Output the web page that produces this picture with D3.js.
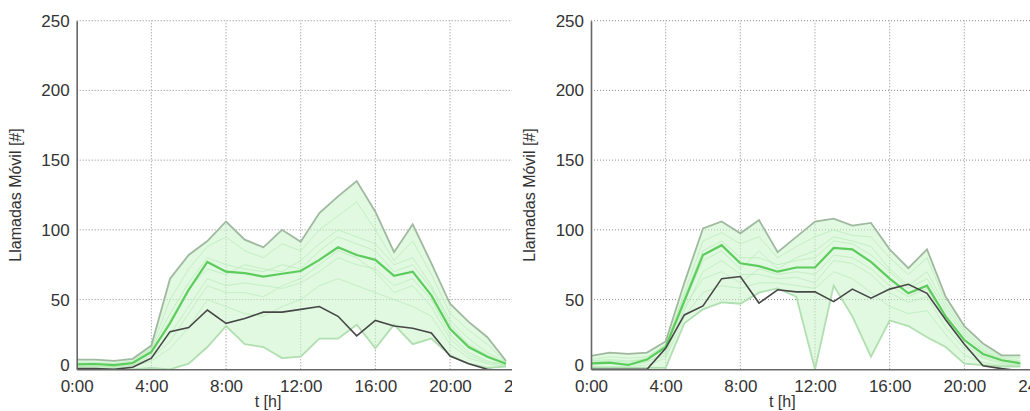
<!DOCTYPE html>
<html>
<head>
<meta charset="utf-8">
<script src="https://cdn.jsdelivr.net/npm/d3@7"></script>
<style>
  body { margin: 0; background: #fff; }
  svg { display: block; font-family: Arial, "Liberation Sans", sans-serif; }
</style>
</head>
<body>
<div id="chart"></div>
<script>
// hours 0..23, one value per hour
var hours = d3.range(0, 24);
var xTicks = [0, 4, 8, 12, 16, 20, 24];
var xTickLabels = ["0:00", "4:00", "8:00", "12:00", "16:00", "20:00", "24:00"];
var yTicks = [0, 50, 100, 150, 200, 250];
var yLabel = "Llamadas Móvil [#]";
var xLabel = "t [h]";

// left panel
var upperL = [7, 7, 6, 7.5, 17, 65, 82, 92, 106, 93, 87.5, 100, 91.5, 112, 124, 135, 113, 84, 104, 76, 47, 34, 23, 6];
var lowerL = [0, 0, 0, 0, 1, 0, 4, 16, 31, 18, 16, 8, 9, 22, 22, 32, 15, 32, 18, 22, 10, 4, 1, 2];
var meanL = [3.6, 3.8, 3, 4.5, 12.5, 33, 57, 77, 70, 69, 66.5, 68.5, 70.5, 78.5, 87.5, 82, 78.5, 67, 70, 53, 29, 16, 9, 4];
var dayL = [0.5, 0.5, 0, 1.5, 8, 27, 30, 42.5, 33, 36.5, 41, 41, 43, 45, 38, 24, 35, 31, 29.5, 26, 9.5, 4, 0, -1];
var faintL = [
  [5, 5, 4, 6, 15, 50, 72, 88, 95, 85, 80, 90, 85, 100, 110, 120, 100, 78, 92, 68, 40, 28, 18, 5],
  [2, 2, 1.5, 3, 10, 25, 45, 65, 60, 62, 60, 58, 62, 70, 80, 75, 72, 60, 65, 50, 25, 12, 6, 3],
  [4, 4, 3, 5, 14, 40, 62, 80, 75, 72, 70, 75, 72, 85, 95, 90, 85, 70, 75, 58, 32, 18, 10, 4],
  [1, 1, 1, 2, 6, 15, 30, 50, 45, 40, 38, 45, 50, 60, 65, 60, 55, 50, 45, 38, 18, 8, 4, 2],
  [3, 3, 2, 4, 12, 35, 58, 72, 68, 75, 72, 70, 78, 90, 100, 95, 90, 75, 80, 60, 35, 22, 12, 5],
  [2, 2, 2, 3, 8, 20, 40, 60, 55, 55, 52, 60, 65, 75, 85, 80, 70, 55, 60, 45, 22, 10, 5, 3]
];

// right panel
var upperR = [9.6, 12, 11, 12, 20, 62, 101, 106, 97.5, 107, 84, 95, 106, 108, 103, 105, 86, 72.5, 86, 52, 31, 18.5, 10, 10];
var lowerR = [1, 1, 1, 1, 1, 33, 43, 48, 47, 55, 58, 52, 0, 60, 38, 9, 35, 31, 23, 16, 4, 3, 2, 2];
var meanR = [4.3, 4.8, 3.1, 7, 16, 49, 82, 89, 76, 74, 70, 73, 73, 87, 86, 77, 65, 54.5, 60, 38, 21, 11, 6.5, 4.3];
var dayR = [0, 0, 0, 0, 15, 39, 45.5, 65, 66.5, 47.5, 57, 55.5, 55.5, 48.5, 57.5, 51, 57.5, 61, 54.5, 35.5, 18, 2.5, 0.5, -1];
var faintR = [
  [7, 9, 8, 9, 17, 55, 92, 98, 90, 95, 80, 88, 95, 100, 96, 95, 80, 68, 80, 48, 28, 16, 9, 8],
  [3, 4, 3, 5, 12, 42, 70, 78, 68, 68, 65, 66, 62, 78, 76, 68, 55, 48, 52, 30, 15, 8, 4, 3],
  [5, 6, 5, 8, 18, 52, 85, 92, 80, 80, 75, 78, 80, 92, 90, 82, 70, 58, 65, 42, 24, 13, 7, 5],
  [2, 2, 2, 3, 8, 38, 55, 60, 58, 62, 62, 60, 58, 70, 65, 55, 45, 40, 42, 25, 10, 5, 3, 2],
  [6, 7, 6, 7, 15, 48, 78, 85, 72, 85, 72, 80, 85, 95, 92, 88, 72, 60, 70, 45, 26, 14, 8, 6],
  [4, 5, 4, 6, 10, 45, 65, 70, 62, 72, 68, 70, 68, 82, 80, 72, 60, 52, 58, 35, 18, 9, 5, 3]
];

var W = 1030, H = 411;
var svg = d3.select("#chart").append("svg")
  .attr("width", W).attr("height", H);

var x = d3.scaleLinear().domain([0, 24]).range([76.7, 524.7]);
var y = d3.scaleLinear().domain([0, 250]).range([369.3, 20.7]);

var line = d3.line()
  .x(function(d, i) { return x(hours[i]); })
  .y(function(d) { return y(d); });

var defs = svg.append("defs");
defs.append("clipPath").attr("id", "plotclip")
  .append("rect").attr("x", x(0)).attr("y", y(250) - 2)
  .attr("width", x(24) - x(0)).attr("height", y(0) - y(250) + 2);
defs.append("clipPath").attr("id", "leftclip")
  .append("rect").attr("x", 0).attr("y", 0).attr("width", 512).attr("height", H);
defs.append("clipPath").attr("id", "rightclip")
  .append("rect").attr("x", 0).attr("y", 0).attr("width", W - 514.3).attr("height", H);

function drawPanel(g, upper, lower, mean, day, faint) {
  // grid
  g.append("g").selectAll("line").data(xTicks.slice(1)).join("line")
    .attr("x1", function(d) { return x(d); }).attr("x2", function(d) { return x(d); })
    .attr("y1", y(0)).attr("y2", y(250))
    .attr("stroke", "#8a8a8a").attr("stroke-width", 1).attr("stroke-dasharray", "1,2");
  g.append("g").selectAll("line").data(yTicks.slice(1)).join("line")
    .attr("x1", x(0)).attr("x2", x(24))
    .attr("y1", function(d) { return y(d); }).attr("y2", function(d) { return y(d); })
    .attr("stroke", "#8a8a8a").attr("stroke-width", 1).attr("stroke-dasharray", "1,2");

  var plot = g.append("g").attr("clip-path", "url(#plotclip)");

  // envelope
  var area = d3.area()
    .x(function(d, i) { return x(hours[i]); })
    .y0(function(d, i) { return y(lower[i]); })
    .y1(function(d) { return y(d); });
  plot.append("path").datum(upper)
    .attr("d", area).attr("fill", "#c9f2c9").attr("fill-opacity", 0.55);

  faint.forEach(function(s) {
    plot.append("path").datum(s).attr("d", line)
      .attr("fill", "none").attr("stroke", "#b0e9b0")
      .attr("stroke-width", 1).attr("stroke-opacity", 0.6);
  });

  plot.append("path").datum(lower).attr("d", line)
    .attr("fill", "none").attr("stroke", "#a9dca9").attr("stroke-width", 1.8).attr("stroke-opacity", 0.9);
  plot.append("path").datum(upper).attr("d", line)
    .attr("fill", "none").attr("stroke", "#9fb99f").attr("stroke-width", 1.8);
  plot.append("path").datum(mean).attr("d", line)
    .attr("fill", "none").attr("stroke", "#5ccc5c").attr("stroke-width", 2.2);
  plot.append("path").datum(day).attr("d", line)
    .attr("fill", "none").attr("stroke", "#474747").attr("stroke-width", 1.6);

  // axes
  var ax = g.append("g").attr("transform", "translate(0," + y(0) + ")")
    .call(d3.axisBottom(x).tickValues(xTicks).tickSize(0).tickPadding(11)
      .tickFormat(function(d, i) { return xTickLabels[i]; }));
  var ay = g.append("g").attr("transform", "translate(" + x(0) + ",0)")
    .call(d3.axisLeft(y).tickValues(yTicks).tickSize(0).tickPadding(7));
  [ax, ay].forEach(function(a) {
    a.select(".domain").attr("stroke", "#666").attr("stroke-width", 1.6);
    a.selectAll("text").attr("fill", "#333").style("font-size", "17px")
      .style("font-family", "Arial, 'Liberation Sans', sans-serif");
  });
  // the "0" label sits a little above the axis line
  ay.selectAll(".tick").filter(function(d) { return d === 0; })
    .select("text").attr("y", -4);

  g.append("text")
    .attr("transform", "translate(21," + ((y(0) + y(250)) / 2) + ") rotate(-90)")
    .attr("text-anchor", "middle").attr("fill", "#333").style("font-size", "16px")
    .text(yLabel);
  g.append("text")
    .attr("x", 268).attr("y", 407)
    .attr("text-anchor", "middle").attr("fill", "#333").style("font-size", "16px")
    .text(xLabel);
}

var left = svg.append("g").attr("clip-path", "url(#leftclip)");
drawPanel(left, upperL, lowerL, meanL, dayL, faintL);

var right = svg.append("g").attr("transform", "translate(514.3,0)")
  .append("g").attr("clip-path", "url(#rightclip)");
drawPanel(right, upperR, lowerR, meanR, dayR, faintR);
</script>
</body>
</html>
